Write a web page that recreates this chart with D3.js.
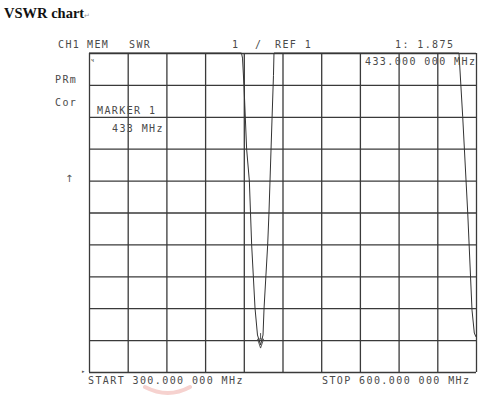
<!DOCTYPE html>
<html>
<head>
<meta charset="utf-8">
<script src="https://cdn.jsdelivr.net/npm/d3@7"></script>
<style>
  body { margin: 0; background: #fff; }
  .lbl { font-family: "DejaVu Sans Mono", monospace; font-size: 10px; letter-spacing: 1.4px; fill: #4a4a4a; }
</style>
</head>
<body>
<div id="chart"></div>
<script>
(function vswr(){
let width = 500,
height = 400,
margin = ({ top: 53, right: 24, bottom: 28, left: 89 });

// Trace (MHz, SWR); values above 11 sit on the top edge
const freq = [300, 418.2, 419, 420.2, 422.2, 424.3, 426.1, 428.7, 430.6, 433, 434.9, 435.7, 438.5, 439.5, 441.9, 443, 443.4, 586.8, 589.7, 593.6, 596.9, 598.7, 600];
const swr  = [11, 11, 10.84, 9.93, 7.99, 6.99, 4.98, 3.0, 2.16, 1.85, 2.16, 3.0, 4.98, 5.98, 8.96, 10.3, 11, 11, 9.0, 5.98, 2.94, 2.22, 2.1];
const freqTicks = [300, 330, 360, 390, 420, 450, 480, 510, 540, 570, 600];
const swrTicks = [1, 2, 3, 4, 5, 6, 7, 8, 9, 10, 11];
const markerFreq = 433, markerSwr = 1.875;

const data = freq.map((f, i) => ({ f: f, s: swr[i] }));

const svg = d3.select("#chart")
.append("svg")
.attr("width", width)
.attr("height", height)
.attr("viewBox", [0, 0, width, height]);

let x = d3.scaleLinear()
.domain([300, 600])
.range([margin.left, width - margin.right]);

let y = d3.scaleLinear()
.domain([1, 11])
.range([height - margin.bottom, margin.top])
.clamp(true);

// faint watermark under the bottom label
svg.append("path")
.attr("d", "M145,387 Q168,399 190,387")
.attr("fill", "none")
.attr("stroke", "#f6d2cf")
.attr("stroke-width", 4)
.attr("stroke-linecap", "round");

// grid
svg.append("g")
.attr("transform", `translate(0,${height - margin.bottom})`)
.call(d3.axisBottom(x).tickValues(freqTicks).tickSize(-(height - margin.bottom - margin.top)).tickFormat(""))
.call(g => g.select(".domain").remove())
.selectAll("line").attr("stroke", "#3a3a3a").attr("stroke-width", 1.3);

svg.append("g")
.attr("transform", `translate(${margin.left},0)`)
.call(d3.axisLeft(y).tickValues(swrTicks).tickSize(-(width - margin.right - margin.left)).tickFormat(""))
.call(g => g.select(".domain").remove())
.selectAll("line").attr("stroke", "#3a3a3a").attr("stroke-width", 1.3);

// trace
svg.append("path")
.datum(data)
.attr("fill", "none")
.attr("stroke", "#333")
.attr("stroke-width", 1)
.attr("d", d3.line().x(d => x(d.f)).y(d => y(d.s)));

// marker symbol at the dip
let mx = x(markerFreq), my = y(markerSwr) + 4;
svg.append("path")
.attr("d", `M${mx},${my} L${mx - 3},${my - 9} L${mx + 3},${my - 9} Z M${mx},${my - 9} L${mx},${my - 15}`)
.attr("fill", "none")
.attr("stroke", "#444")
.attr("stroke-width", 0.9);

// title
svg.append("text").attr("x", 4).attr("y", 18).text("VSWR chart")
.style("font-family", "'Liberation Serif', serif").style("font-weight", "bold").style("font-size", "14.5px").attr("fill", "#111");
svg.append("text").attr("x", 84).attr("y", 18).text("↵")
.style("font-family", "'DejaVu Sans', sans-serif").style("font-size", "7px").attr("fill", "#999");

// header and annotation texts
const labels = [
  [58, 48, "CH1"], [87, 48, "MEM"], [129, 48, "SWR"],
  [232, 48, "1"], [255, 48, "/"], [275, 48, "REF 1"],
  [395, 48, "1: 1.875"], [365, 65, "433.000 000 MHz"],
  [55, 83, "PRm"], [55, 106, "Cor"],
  [97, 114, "MARKER 1"], [112, 132, "433 MHz"],
  [88, 384, "START  300.000 000 MHz"], [322, 384, "STOP  600.000 000 MHz"]
];
svg.selectAll("text.lbl")
.data(labels)
.join("text")
.attr("class", "lbl")
.attr("x", d => d[0])
.attr("y", d => d[1])
.text(d => d[2]);

svg.append("text").attr("x", 65).attr("y", 182).text("↑")
.style("font-family", "'DejaVu Sans', sans-serif").style("font-size", "10px").attr("fill", "#555");

// tiny plotter marks
svg.append("text").attr("x", 91).attr("y", 62).text("ч").style("font-size", "6px").attr("fill", "#555");
svg.append("text").attr("x", 82).attr("y", 373).text("▸").style("font-size", "5px").attr("fill", "#555");
})();
</script>
</body>
</html>
